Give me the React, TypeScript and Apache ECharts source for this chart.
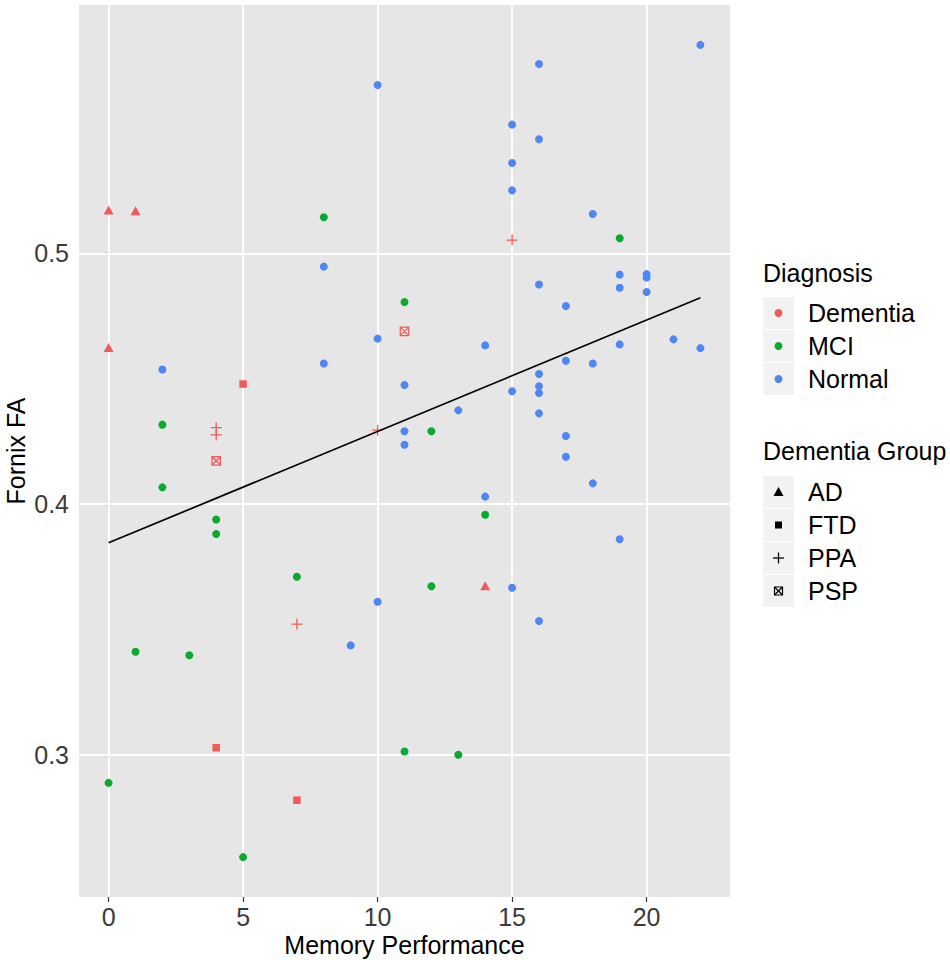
import React, { useEffect, useRef } from "react";
import * as echarts from "echarts";

// Diagnosis: Normal
const normalX = [22, 16, 10, 15, 16, 15, 15, 18, 8, 16, 19, 19, 20, 20, 20, 17, 10, 14, 19, 21, 22, 2, 8, 17, 18, 16, 11, 15, 16, 16, 13, 16, 11, 11, 17, 17, 18, 14, 19, 15, 10, 16, 9];
const normalY = [0.5831, 0.5755, 0.5671, 0.5513, 0.5455, 0.536, 0.5251, 0.5157, 0.4947, 0.4876, 0.4915, 0.4863, 0.4917, 0.4904, 0.4846, 0.479, 0.466, 0.4633, 0.4637, 0.4657, 0.4622, 0.4537, 0.4561, 0.4572, 0.4561, 0.4519, 0.4475, 0.445, 0.447, 0.4443, 0.4374, 0.4362, 0.4291, 0.4237, 0.4272, 0.4189, 0.4083, 0.403, 0.386, 0.3667, 0.3611, 0.3534, 0.3437];

// Diagnosis: MCI
const mciX = [8, 19, 11, 2, 12, 2, 14, 4, 4, 7, 12, 1, 3, 11, 13, 0, 5];
const mciY = [0.5144, 0.506, 0.4806, 0.4317, 0.4291, 0.4067, 0.3958, 0.3939, 0.3881, 0.3711, 0.3673, 0.3412, 0.3398, 0.3014, 0.3001, 0.2889, 0.2593];

// Diagnosis: Dementia, by dementia group
const adX = [0, 1, 0, 14];
const adY = [0.5173, 0.517, 0.4625, 0.3675];
const ftdX = [5, 4, 7];
const ftdY = [0.4479, 0.3029, 0.282];
const ppaX = [15, 4, 4, 10, 7];
const ppaY = [0.5053, 0.4305, 0.4276, 0.4295, 0.3522];
const pspX = [11, 4];
const pspY = [0.4689, 0.4173];

// Fitted regression line end points
const fitX = [0, 22];
const fitY = [0.3846, 0.4823];

// Axis ticks
const xTicks = [0, 5, 10, 15, 20];
const yTicks = [0.3, 0.4, 0.5];

const diagnosisLabels = ["Dementia", "MCI", "Normal"];
const groupLabels = ["AD", "FTD", "PPA", "PSP"];

const RED = "#F25A5A";
const GREEN = "#0AAA2E";
const BLUE = "#4E86F3";
const FONT = "'Liberation Sans', Arial, Helvetica, sans-serif";

const zip = (xs: number[], ys: number[]) => xs.map((x, i) => [x, ys[i]]);

const PLUS = "path://M0,5L10,5M5,0L5,10";
const SQCROSS = "path://M0,0L10,0L10,10L0,10ZM0,0L10,10M10,0L0,10";

export default function App() {
  const ref = useRef<HTMLDivElement>(null);
  useEffect(() => {
    if (!ref.current) return;
    const chart = echarts.init(ref.current, null, { renderer: "svg" });

    const keyX = 763;
    const keyW = 31;
    const diagRows = [313, 346, 379];
    const groupRows = [492, 525, 558, 591];
    const diagColors = [RED, GREEN, BLUE];

    const graphic: any[] = [];
    // axis titles
    graphic.push({
      type: "text",
      x: 16,
      y: 451,
      rotation: Math.PI / 2,
      style: { text: "Fornix FA", font: `25px ${FONT}`, fill: "#000", align: "center", verticalAlign: "middle" },
    });
    graphic.push({
      type: "text",
      x: 404.5,
      y: 945,
      style: { text: "Memory Performance", font: `25px ${FONT}`, fill: "#000", align: "center", verticalAlign: "middle" },
    });
    // legend titles
    graphic.push({
      type: "text",
      x: keyX,
      y: 273,
      style: { text: "Diagnosis", font: `25px ${FONT}`, fill: "#000", align: "left", verticalAlign: "middle" },
    });
    graphic.push({
      type: "text",
      x: keyX,
      y: 451,
      style: { text: "Dementia Group", font: `25px ${FONT}`, fill: "#000", align: "left", verticalAlign: "middle" },
    });
    const cx = keyX + keyW / 2;
    diagnosisLabels.forEach((lab, i) => {
      const cy = diagRows[i];
      graphic.push({ type: "rect", shape: { x: keyX, y: cy - 16, width: keyW, height: 32 }, style: { fill: "#F2F2F2" } });
      graphic.push({ type: "circle", shape: { cx, cy, r: 4 }, style: { fill: diagColors[i] } });
      graphic.push({
        type: "text",
        x: 808,
        y: cy,
        style: { text: lab, font: `25px ${FONT}`, fill: "#000", align: "left", verticalAlign: "middle" },
      });
    });
    groupLabels.forEach((lab, i) => {
      const cy = groupRows[i];
      graphic.push({ type: "rect", shape: { x: keyX, y: cy - 16, width: keyW, height: 32 }, style: { fill: "#F2F2F2" } });
      if (i === 0) {
        graphic.push({ type: "polygon", shape: { points: [[cx - 5, cy + 4], [cx + 5, cy + 4], [cx, cy - 5]] }, style: { fill: "#000" } });
      } else if (i === 1) {
        graphic.push({ type: "rect", shape: { x: cx - 3.5, y: cy - 3.5, width: 7, height: 7 }, style: { fill: "#000" } });
      } else if (i === 2) {
        graphic.push({ type: "line", shape: { x1: cx - 5.5, y1: cy, x2: cx + 5.5, y2: cy }, style: { stroke: "#000", lineWidth: 1.3 } });
        graphic.push({ type: "line", shape: { x1: cx, y1: cy - 5.5, x2: cx, y2: cy + 5.5 }, style: { stroke: "#000", lineWidth: 1.3 } });
      } else {
        graphic.push({ type: "rect", shape: { x: cx - 4, y: cy - 4, width: 8, height: 8 }, style: { fill: "none", stroke: "#000", lineWidth: 1.2 } });
        graphic.push({ type: "line", shape: { x1: cx - 4, y1: cy - 4, x2: cx + 4, y2: cy + 4 }, style: { stroke: "#000", lineWidth: 1.2 } });
        graphic.push({ type: "line", shape: { x1: cx + 4, y1: cy - 4, x2: cx - 4, y2: cy + 4 }, style: { stroke: "#000", lineWidth: 1.2 } });
      }
      graphic.push({
        type: "text",
        x: 808,
        y: cy,
        style: { text: lab, font: `25px ${FONT}`, fill: "#000", align: "left", verticalAlign: "middle" },
      });
    });

    const option: any = {
      animation: false,
      backgroundColor: "#FFFFFF",
      textStyle: { fontFamily: FONT },
      grid: {
        left: 79,
        top: 5,
        width: 651,
        height: 892,
        show: true,
        backgroundColor: "#E6E6E6",
        borderWidth: 0,
        containLabel: false,
      },
      xAxis: {
        type: "value",
        min: -1.1,
        max: 23.1,
        axisLine: { show: false },
        axisTick: { show: true, customValues: xTicks, length: 5, lineStyle: { color: "#333333", width: 1.2 } },
        axisLabel: { customValues: xTicks, fontSize: 25, color: "#3A3A3A", margin: 7, fontFamily: FONT },
        splitLine: { show: false },
      },
      yAxis: {
        type: "value",
        min: 0.2434,
        max: 0.599,
        axisLine: { show: false },
        axisTick: { show: true, customValues: yTicks, length: 5, lineStyle: { color: "#333333", width: 1.2 } },
        axisLabel: {
          customValues: yTicks,
          fontSize: 25,
          color: "#3A3A3A",
          margin: 10,
          fontFamily: FONT,
          formatter: (v: number) => v.toFixed(1),
        },
        splitLine: { show: false },
      },
      graphic,
      series: [
        {
          type: "scatter",
          name: "grid",
          data: [],
          z: 1,
          silent: true,
          markLine: {
            z: 1,
            silent: true,
            symbol: ["none", "none"],
            animation: false,
            label: { show: false },
            lineStyle: { color: "#FFFFFF", width: 1.8, type: "solid" },
            emphasis: { disabled: true },
            data: [
              ...xTicks.map((v) => ({ xAxis: v })),
              ...yTicks.map((v) => ({ yAxis: v })),
            ],
          },
        },
        {
          type: "scatter",
          name: "Normal",
          data: zip(normalX, normalY),
          symbol: "circle",
          symbolSize: 8,
          itemStyle: { color: BLUE, opacity: 1 },
          z: 3,
        },
        {
          type: "scatter",
          name: "MCI",
          data: zip(mciX, mciY),
          symbol: "circle",
          symbolSize: 8,
          itemStyle: { color: GREEN, opacity: 1 },
          z: 3,
        },
        {
          type: "scatter",
          name: "AD",
          data: zip(adX, adY),
          symbol: "triangle",
          symbolSize: [10, 9],
          itemStyle: { color: RED, opacity: 1 },
          z: 3,
        },
        {
          type: "scatter",
          name: "FTD",
          data: zip(ftdX, ftdY),
          symbol: "rect",
          symbolSize: 7.5,
          itemStyle: { color: RED, opacity: 1 },
          z: 3,
        },
        {
          type: "scatter",
          name: "PPA",
          data: zip(ppaX, ppaY),
          symbol: PLUS,
          symbolSize: 11,
          itemStyle: { color: "none", borderColor: RED, borderWidth: 1.3, opacity: 1 },
          z: 3,
        },
        {
          type: "scatter",
          name: "PSP",
          data: zip(pspX, pspY),
          symbol: SQCROSS,
          symbolSize: 8.5,
          itemStyle: { color: "none", borderColor: RED, borderWidth: 1.2, opacity: 1 },
          z: 3,
        },
        {
          type: "line",
          name: "fit",
          data: zip(fitX, fitY),
          showSymbol: false,
          symbol: "none",
          lineStyle: { color: "#000000", width: 1.7 },
          z: 4,
          silent: true,
        },
      ],
    };
    chart.setOption(option);
    return () => chart.dispose();
  }, []);

  return (
    <div
      ref={ref}
      style={{ position: "fixed", left: 0, top: 0, width: 950, height: 960, background: "#fff" }}
    />
  );
}
